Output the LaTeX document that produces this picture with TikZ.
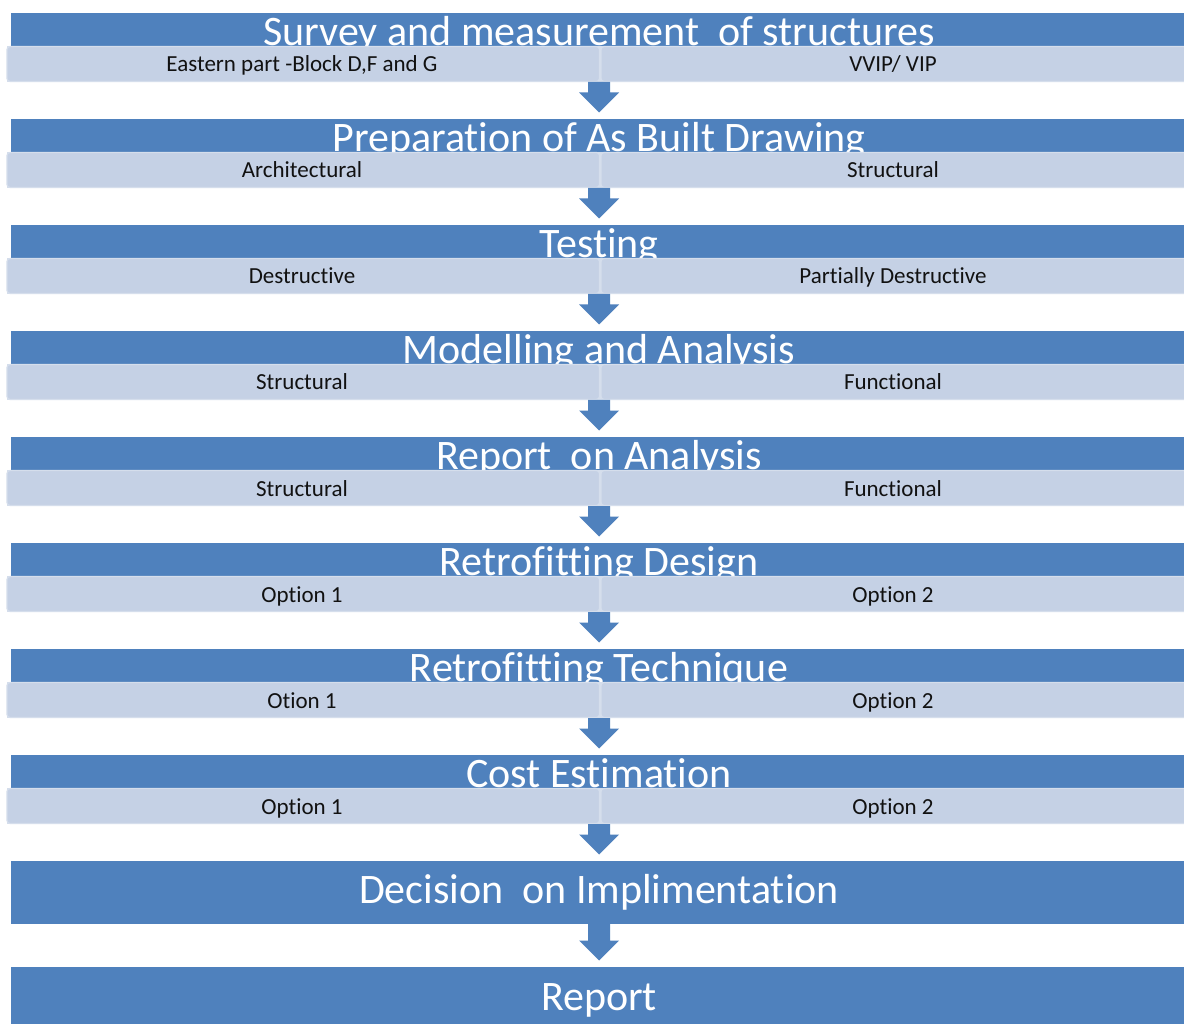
\documentclass[tikz,border=0pt]{standalone}
\usepackage{fontspec}
\setmainfont[Ligatures=NoCommon]{Carlito}
\usetikzlibrary{calc}
\definecolor{barblue}{HTML}{4F81BD}
\definecolor{subfill}{HTML}{C5D1E5}
\definecolor{subedge}{HTML}{D5DEEC}
\definecolor{subtext}{HTML}{111111}
\tikzset{
  bar/.style={fill=barblue},
  subbar/.style={fill=subfill, draw=subedge, line width=1.2pt, rounded corners=3pt},
  substrip/.style={fill=subedge},
  title/.style={text=white, font=\fontsize{42}{48}\selectfont, anchor=base, inner sep=0pt},
  subtitle/.style={text=subtext, font=\fontsize{23}{28}\selectfont, anchor=base, inner sep=0pt},
  flow/.style={fill=barblue},
}
% one stage: #1 id, #2 top edge, #3 heading, #4 left item, #5 right item
\newcommand\stagerow[5]{%
  \fill[bar] (11,#2) rectangle (1200,#2+60);
  \node[title] (t#1) at (599,#2+32.5) {#3};
  \fill[substrip] (7,#2+33) rectangle (1200,#2+69);
  \draw[subbar] (7,#2+33.5) rectangle (599.5,#2+68.5);
  \draw[subbar] (601,#2+33.5) rectangle (1200,#2+68.5);
  \node[subtitle] (l#1) at (302,#2+59) {#4};
  \node[subtitle] (r#1) at (893,#2+59) {#5};
  \coordinate (o#1) at (599,#2+69);
  \coordinate (i#1) at (599,#2);
}
% block arrow from a start point down to a tip point
\newcommand\flowarrow[2]{%
  \fill[flow] ($(#1)+(-11,0)$) -- ($(#2)+(-11,-20)$) -- ($(#2)+(-20,-20)$) --
    (#2) -- ($(#2)+(20,-20)$) -- ($(#2)+(11,-20)$) -- ($(#1)+(11,0)$) -- cycle;
}
\begin{document}
\begin{tikzpicture}[x=1pt,y=-1pt]
  \useasboundingbox (0,0) rectangle (1184,1024);
  \clip (0,0) rectangle (1184,1024);
  \fill[white] (0,0) rectangle (1184,1024);

  \stagerow{1}{13}{Survey and measurement\ \ of structures}{Eastern part -Block D,F and G}{VVIP/ VIP}
  \stagerow{2}{119}{Preparation of As Built Drawing}{Architectural}{Structural}
  \stagerow{3}{225}{Testing}{Destructive}{Partially Destructive}
  \stagerow{4}{331}{Modelling and Analysis}{Structural}{Functional}
  \stagerow{5}{437}{Report\ \ on Analysis}{Structural}{Functional}
  \stagerow{6}{543}{Retrofitting Design}{Option 1}{Option 2}
  \stagerow{7}{649}{Retrofitting Technique}{Otion 1}{Option 2}
  \stagerow{8}{755}{Cost Estimation}{Option 1}{Option 2}

  % decision and final report bars
  \fill[bar] (11,861) rectangle (1200,924);
  \node[title] (dec) at (599,903) {Decision\ \ on Implimentation};
  \coordinate (i9) at (599,861);
  \coordinate (o9) at (599,924);
  \fill[bar] (11,967) rectangle (1200,1030);
  \node[title] (rep) at (599,1010) {Report};
  \coordinate (i10) at (599,967);

  % connectors between stages
  \foreach \a/\b in {1/2,2/3,3/4,4/5,5/6,6/7,7/8,8/9,9/10}{
    \coordinate (tip\a) at ($(i\b)+(0,-6.5)$);
    \flowarrow{o\a}{tip\a}
  }
\end{tikzpicture}
\end{document}
